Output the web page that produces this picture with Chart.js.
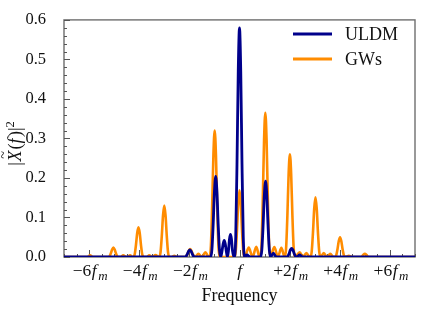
<!DOCTYPE html>
<html><head><meta charset="utf-8">
<script src="https://cdn.jsdelivr.net/npm/chart.js@4.4.1/dist/chart.umd.min.js"></script>
<style>html,body{margin:0;padding:0;background:#fff}#wrap{width:421px;height:310px;position:relative}</style>
</head><body><div id="wrap"><canvas id="c"></canvas></div>
<script>
// ---- data (x in units of f_m, offset from f) ----
const seriesNames = ['ULDM', 'GWs'];
const seriesColors = ['#00008b', '#ff8c00'];

const uldmX = [-7, -2.18, -2.13, -2.08, -2.03, -1.98, -1.93, -1.88, -1.83, -1.78,
  -1.15, -1.1, -1.05, -1.0, -0.95, -0.9, -0.85, -0.8, -0.75,
  -0.7, -0.65, -0.61, -0.57, -0.52, -0.48, -0.44, -0.4, -0.36, -0.32, -0.28, -0.22,
  -0.2, -0.15, -0.1, -0.05, 0, 0.05, 0.1, 0.15, 0.2, 0.3, 0.42,
  0.84, 0.89, 0.94, 0.99, 1.04, 1.09, 1.14, 1.19, 1.24, 1.35, 1.47,
  1.88, 1.93, 1.98, 2.03, 2.08, 2.13, 2.18, 2.23, 2.28, 2.4, 2.52, 7];
const uldmY = [0, 0, 0.0016, 0.0073, 0.0146, 0.018, 0.0146, 0.0073, 0.0016, 0,
  0, 0.0184, 0.0826, 0.1652, 0.204, 0.1652, 0.0826, 0.0184, 0,
  0.014, 0.034, 0.042, 0.034, 0.012, 0, 0.016, 0.045, 0.057, 0.045, 0.016, 0,
  0, 0.0522, 0.2349, 0.4698, 0.58, 0.4698, 0.2349, 0.0522, 0, 0.005, 0,
  0, 0.0173, 0.0778, 0.1555, 0.192, 0.1555, 0.0778, 0.0173, 0, 0.01, 0,
  0, 0.002, 0.0089, 0.0178, 0.022, 0.0178, 0.0089, 0.002, 0, 0.005, 0, 0];

const gwX = [-7, -6.08, -5.96, -5.84,
  -5.23, -5.18, -5.13, -5.08, -5.03, -4.98, -4.93, -4.88, -4.83,
  -4.74, -4.64, -4.5, -4.36, -4.27,
  -4.23, -4.18, -4.13, -4.08, -4.03, -3.98, -3.93, -3.88, -3.83,
  -3.7, -3.6, -3.47, -3.35, -3.22,
  -3.2, -3.15, -3.1, -3.05, -3.0, -2.95, -2.9, -2.85, -2.8,
  -2.7, -2.6, -2.5,
  -2.17, -2.12, -2.07, -2.02, -1.97, -1.92, -1.87, -1.82, -1.77,
  -1.64, -1.5, -1.36, -1.23,
  -1.19, -1.14, -1.09, -1.04, -0.99, -0.94, -0.89, -0.84, -0.79,
  -0.2, -0.15, -0.1, -0.05, 0, 0.05, 0.1, 0.15, 0.2,
  0.37, 0.52, 0.67, 0.8,
  0.83, 0.88, 0.93, 0.98, 1.03, 1.08, 1.13, 1.18, 1.23,
  1.39, 1.53, 1.67, 1.8,
  1.81, 1.86, 1.91, 1.96, 2.01, 2.06, 2.11, 2.16, 2.21,
  2.4, 2.53, 2.67, 2.8,
  2.83, 2.88, 2.93, 2.98, 3.03, 3.08, 3.13, 3.18, 3.23,
  3.36, 3.49, 3.62, 3.75,
  3.81, 3.86, 3.91, 3.96, 4.01, 4.06, 4.11, 4.16, 4.21,
  4.36, 4.5,
  4.86, 4.93, 5.0, 5.07, 5.14, 7];
const gwY = [0, 0, 0.004, 0,
  0, 0.002, 0.0097, 0.019, 0.024, 0.019, 0.0097, 0.002, 0,
  0, 0.004, 0, 0.004, 0,
  0, 0.0068, 0.0304, 0.0608, 0.075, 0.0608, 0.0304, 0.0068, 0,
  0, 0.004, 0, 0.005, 0,
  0, 0.0117, 0.0527, 0.1053, 0.13, 0.1053, 0.0527, 0.0117, 0,
  0, 0.003, 0,
  0, 0.0018, 0.0081, 0.0162, 0.02, 0.0162, 0.0081, 0.0018, 0,
  0.008, 0, 0.012, 0,
  0, 0.0288, 0.1296, 0.2592, 0.32, 0.2592, 0.1296, 0.0288, 0,
  0, 0.0152, 0.0684, 0.1369, 0.169, 0.1369, 0.0684, 0.0152, 0,
  0.024, 0, 0.026, 0,
  0, 0.0329, 0.1478, 0.2957, 0.365, 0.2957, 0.1478, 0.0329, 0,
  0.025, 0, 0.023, 0,
  0, 0.0234, 0.1053, 0.2106, 0.26, 0.2106, 0.1053, 0.0234, 0,
  0.012, 0, 0.01, 0,
  0, 0.0136, 0.0612, 0.1223, 0.151, 0.1223, 0.0612, 0.0136, 0,
  0.01, 0, 0.008, 0,
  0, 0.0045, 0.0203, 0.0405, 0.05, 0.0405, 0.0203, 0.0045, 0,
  0.003, 0,
  0, 0.005, 0.008, 0.005, 0, 0];

const xTickValues = [-6, -4, -2, 0, 2, 4, 6];
const xTickLabels = ['−6f_m', '−4f_m', '−2f_m', 'f', '+2f_m', '+4f_m', '+6f_m'];
const yTickValues = [0, 0.1, 0.2, 0.3, 0.4, 0.5, 0.6];
const xAxisTitle = 'Frequency';

const FONT = '"Liberation Serif", "Times New Roman", serif';

function toPts(xs, ys) { return xs.map((x, i) => ({x: x, y: ys[i]})); }

function setFont(ctx, s, size) {
  ctx.font = (s.it ? 'italic ' : '') + (size * (s.sc || 1)) + 'px ' + FONT;
}
function richWidth(ctx, segs, size) {
  let w = 0;
  for (const s of segs) { setFont(ctx, s, size); w += ctx.measureText(s.t).width + (s.gap || 0); }
  return w;
}
function drawRich(ctx, segs, x, y, size, align) {
  const w = richWidth(ctx, segs, size);
  let cx = align === 'center' ? x - w / 2 : (align === 'right' ? x - w : x);
  ctx.textBaseline = 'alphabetic';
  for (const s of segs) {
    setFont(ctx, s, size);
    const sw = ctx.measureText(s.t).width;
    ctx.textAlign = 'left';
    ctx.fillText(s.t, cx, y + (s.dy || 0));
    if (s.tilde) {
      ctx.font = (size * 0.8) + 'px ' + FONT;
      ctx.textAlign = 'center';
      ctx.fillText('~', cx + sw * 0.62, y - size * 0.72);
    }
    cx += sw + (s.gap || 0);
  }
}
function parseTick(lbl) {
  const segs = [];
  const i = lbl.indexOf('f');
  if (i > 0) segs.push({t: lbl.slice(0, i), gap: 0.5});
  segs.push({t: 'f', it: true, gap: 1.5});
  const sub = lbl.indexOf('_');
  if (sub >= 0) segs.push({t: lbl.slice(sub + 1), it: true, sc: 0.74, dy: 3.5});
  return segs;
}

const decor = {
  id: 'decor',
  beforeDatasetsDraw(chart) {
    const ctx = chart.ctx, a = chart.chartArea;
    const xs = chart.scales.x, ys = chart.scales.y;
    ctx.save();
    ctx.strokeStyle = '#6e6e6e';
    ctx.lineWidth = 1.4;
    ctx.strokeRect(a.left, a.top, a.right - a.left, a.bottom - a.top);
    ctx.lineWidth = 1;
    ctx.strokeStyle = '#555';
    ctx.beginPath();
    for (let v = -7; v <= 7.001; v += 0.5) {
      const px = Math.round(xs.getPixelForValue(v)) + 0.5;
      const major = Math.abs(v / 2 - Math.round(v / 2)) < 1e-6;
      ctx.moveTo(px, a.bottom); ctx.lineTo(px, a.bottom - (major ? 7 : 3));
    }
    for (let k = 0; k <= 30; k++) {
      const v = k * 0.02;
      const py = Math.round(ys.getPixelForValue(v)) + 0.5;
      const major = k % 5 === 0;
      ctx.moveTo(a.left, py); ctx.lineTo(a.left + (major ? 6 : 3), py);
    }
    ctx.stroke();
    ctx.restore();
  },
  afterDraw(chart) {
    const ctx = chart.ctx, a = chart.chartArea;
    const xs = chart.scales.x;
    ctx.save();
    ctx.fillStyle = '#111';
    // x tick labels
    xTickValues.forEach((v, i) => {
      drawRich(ctx, parseTick(xTickLabels[i]), xs.getPixelForValue(v) + 1, a.bottom + 19, 17.5, 'center');
    });
    // x title
    ctx.font = '18px ' + FONT;
    ctx.textAlign = 'center';
    ctx.textBaseline = 'alphabetic';
    ctx.fillText(xAxisTitle, (a.left + a.right) / 2, 301);
    // y title
    ctx.save();
    ctx.translate(21, (a.top + a.bottom) / 2 + 5);
    ctx.rotate(-Math.PI / 2);
    const ysegs = [{t: '|', gap: 0.5}, {t: 'X', it: true, tilde: true, gap: 1}, {t: '('}, {t: 'f', it: true, gap: 1.5},
      {t: ')|'}, {t: '2', sc: 0.7, dy: -7}];
    drawRich(ctx, ysegs, 0, 0, 18, 'center');
    ctx.restore();
    // legend
    const ly = [34, 59];
    seriesNames.forEach((n, i) => {
      ctx.strokeStyle = seriesColors[i];
      ctx.lineWidth = 2.8;
      ctx.beginPath();
      ctx.moveTo(293, ly[i]); ctx.lineTo(332, ly[i]);
      ctx.stroke();
      ctx.fillStyle = '#111';
      ctx.font = '18px ' + FONT;
      ctx.textAlign = 'left';
      ctx.textBaseline = 'middle';
      ctx.fillText(n, 345, ly[i] + 1);
    });
    ctx.restore();
  }
};

new Chart(document.getElementById('c'), {
  type: 'line',
  data: {
    datasets: [
      {label: seriesNames[0], data: toPts(uldmX, uldmY), borderColor: seriesColors[0], borderWidth: 2.8,
        pointRadius: 0, fill: false, cubicInterpolationMode: 'monotone'},
      {label: seriesNames[1], data: toPts(gwX, gwY), borderColor: seriesColors[1], borderWidth: 2.6,
        pointRadius: 0, fill: false, cubicInterpolationMode: 'monotone'}
    ]
  },
  options: {
    responsive: true,
    maintainAspectRatio: false,
    animation: false,
    events: [],
    layout: {padding: {top: 12, right: 6, bottom: 53, left: 0}},
    plugins: {legend: {display: false}, tooltip: {enabled: false}},
    scales: {
      x: {type: 'linear', min: -7, max: 7, display: false},
      y: {
        min: 0, max: 0.6,
        afterFit(s) { s.width = 64; },
        afterBuildTicks(s) { s.ticks = yTickValues.map(v => ({value: v})); },
        grid: {display: false},
        border: {display: false},
        ticks: {
          padding: 10, color: '#111',
          font: {family: FONT, size: 16.5},
          callback: v => Number(v).toFixed(1)
        }
      }
    }
  },
  plugins: [decor]
});
</script>
</body></html>
